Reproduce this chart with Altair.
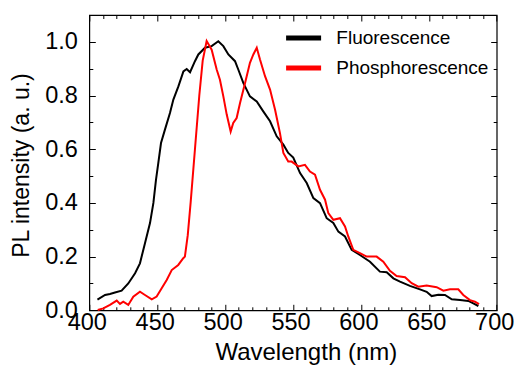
import altair as alt
import pandas as pd

# ---- data ----
fl_wl = [406.0, 411.6, 415.2, 418.9, 423.8, 428.7, 433.7, 437.3, 441.0, 444.7, 447.2, 449.1,
         450.8, 452.8, 455.7, 459.4, 461.9, 465.6, 469.3, 471.7, 474.2, 477.8, 480.3, 485.2,
         490.1, 495.0, 498.7, 502.4, 507.3, 509.7, 513.4, 518.3, 523.3, 528.1, 533.1, 538.0,
         542.9, 546.5, 550.2, 555.2, 560.1, 565.0, 569.9, 574.8, 579.7, 583.4, 588.3, 593.2,
         599.3, 606.7, 614.0, 619.0, 623.9, 628.8, 636.1, 643.5, 648.4, 652.1, 657.0, 661.9,
         666.9, 673.0, 679.1, 682.8, 686.5]
fl_int = [0.040, 0.057, 0.061, 0.066, 0.073, 0.100, 0.138, 0.175, 0.250, 0.325, 0.400, 0.486,
          0.548, 0.623, 0.673, 0.735, 0.785, 0.834, 0.890, 0.899, 0.887, 0.928, 0.953, 0.978,
          0.984, 1.002, 0.984, 0.953, 0.928, 0.897, 0.847, 0.797, 0.778, 0.741, 0.704, 0.648,
          0.617, 0.586, 0.569, 0.511, 0.474, 0.418, 0.399, 0.343, 0.325, 0.293, 0.275, 0.225,
          0.206, 0.181, 0.144, 0.142, 0.119, 0.107, 0.091, 0.078, 0.069, 0.053, 0.058, 0.057,
          0.041, 0.038, 0.035, 0.026, 0.016]

ph_wl = [406.2, 410.3, 415.2, 420.2, 422.6, 425.0, 428.7, 432.4, 437.3, 441.0, 446.0, 449.6,
         453.3, 457.0, 460.7, 465.5, 469.2, 470.4, 472.5, 474.6, 477.8, 481.0, 483.5, 486.4,
         490.1, 493.8, 496.2, 498.7, 501.2, 504.1, 506.0, 508.5, 511.0, 514.7, 518.3, 520.8,
         523.3, 525.7, 529.4, 533.1, 536.8, 540.4, 542.9, 546.5, 549.0, 553.9, 558.8, 562.5,
         566.2, 569.9, 573.6, 576.0, 579.7, 584.6, 588.3, 590.7, 594.4, 599.3, 604.2, 611.6,
         616.5, 621.4, 626.3, 632.5, 637.4, 642.3, 648.4, 655.8, 660.7, 665.6, 671.7, 675.4,
         680.3, 684.0, 687.0]
ph_int = [0.001, 0.007, 0.020, 0.036, 0.024, 0.032, 0.020, 0.051, 0.069, 0.057, 0.041, 0.051,
          0.082, 0.113, 0.150, 0.169, 0.194, 0.200, 0.280, 0.400, 0.600, 0.800, 0.930, 1.003,
          0.971, 0.897, 0.859, 0.797, 0.729, 0.666, 0.698, 0.716, 0.772, 0.847, 0.922, 0.953,
          0.978, 0.934, 0.872, 0.822, 0.747, 0.660, 0.586, 0.554, 0.554, 0.536, 0.542, 0.517,
          0.505, 0.449, 0.412, 0.362, 0.337, 0.343, 0.312, 0.275, 0.225, 0.213, 0.200, 0.200,
          0.181, 0.147, 0.128, 0.123, 0.101, 0.088, 0.092, 0.086, 0.073, 0.078, 0.078, 0.057,
          0.038, 0.032, 0.023]

series_names = ["Fluorescence", "Phosphorescence"]
series_colors = ["#000000", "#ff0000"]

x_major = [400, 450, 500, 550, 600, 650, 700]
x_minor = [410, 420, 430, 440, 460, 470, 480, 490, 510, 520, 530, 540, 560, 570, 580, 590,
           610, 620, 630, 640, 660, 670, 680, 690]
y_major = [0.0, 0.2, 0.4, 0.6, 0.8, 1.0]
y_minor = [0.1, 0.3, 0.5, 0.7, 0.9]

df = pd.concat([
    pd.DataFrame({"wl": fl_wl, "pl": fl_int, "series": series_names[0]}),
    pd.DataFrame({"wl": ph_wl, "pl": ph_int, "series": series_names[1]}),
], ignore_index=True)

FONT = "Liberation Sans"
MAJ = 6
MIN = 3.5

xs = alt.Scale(domain=[400, 700], nice=False, zero=False)
ys = alt.Scale(domain=[0, 1.1], nice=False, zero=False)


def tick_axis(orient, values, size):
    return alt.Axis(orient=orient, values=values, tickSize=size, offset=-size,
                    domain=False, grid=False, labels=False, title=None,
                    tickColor="black", tickWidth=1)


color_enc = alt.Color(
    "series:N",
    scale=alt.Scale(domain=series_names, range=series_colors),
    legend=alt.Legend(title=None, orient="none", legendX=194.3, legendY=3,
                      symbolType="stroke", symbolSize=1225, symbolStrokeWidth=5,
                      labelFontSize=19, labelFont=FONT, labelColor="black",
                      labelOffset=12.7, rowPadding=0, padding=0),
)

base = alt.Chart(df)

fl_layer = base.transform_filter(alt.datum.series == series_names[0]).mark_line(
    strokeWidth=2
).encode(
    x=alt.X("wl:Q", scale=xs, axis=alt.Axis(
        orient="bottom", values=x_major, tickSize=MAJ, offset=-MAJ, domain=False, grid=False,
        tickColor="black", tickWidth=1, format="d", labelFlush=False, labelOffset=-2.5,
        labelFontSize=23.5, labelFont=FONT, labelColor="black", labelPadding=0,
        title="Wavelength (nm)", titleFontSize=24, titleFont=FONT, titleFontWeight="normal",
        titleColor="black", titleX=216.5, titleY=36)),
    y=alt.Y("pl:Q", scale=ys, axis=alt.Axis(
        orient="left", values=y_major, tickSize=MAJ, offset=-MAJ, domain=False, grid=False,
        tickColor="black", tickWidth=1, format=".1f", labelFlush=False,
        labelFontSize=23.5, labelFont=FONT, labelColor="black", labelPadding=12,
        title="PL intensity (a. u.)", titleFontSize=23, titleFont=FONT,
        titleFontWeight="normal", titleColor="black", titleX=-62, titleY=150)),
    color=color_enc,
)

ph_layer = base.transform_filter(alt.datum.series == series_names[1]).mark_line(
    strokeWidth=2
).encode(
    x=alt.X("wl:Q", scale=xs, axis=tick_axis("bottom", x_minor, MIN)),
    y=alt.Y("pl:Q", scale=ys, axis=tick_axis("left", y_minor, MIN)),
    color=color_enc,
)

frame_major = base.mark_line(opacity=0).encode(
    x=alt.X("wl:Q", scale=xs, axis=tick_axis("top", x_major, MAJ)),
    y=alt.Y("pl:Q", scale=ys, axis=tick_axis("right", y_major, MAJ)),
)

frame_minor = base.mark_line(opacity=0).encode(
    x=alt.X("wl:Q", scale=xs, axis=tick_axis("top", x_minor, MIN)),
    y=alt.Y("pl:Q", scale=ys, axis=tick_axis("right", y_minor, MIN)),
)

chart = alt.layer(fl_layer, ph_layer, frame_major, frame_minor).resolve_axis(
    x="independent", y="independent"
).properties(
    width=407.4, height=295.3,
    padding={"left": 89.3, "top": 15, "right": 17.3, "bottom": 56.7},
    autosize=alt.AutoSizeParams(type="none"),
    background="white",
).configure(
    font=FONT
).configure_view(
    stroke="black", strokeWidth=1.2
)

chart.save("out.html", embed_options={"renderer": "svg", "actions": False})
